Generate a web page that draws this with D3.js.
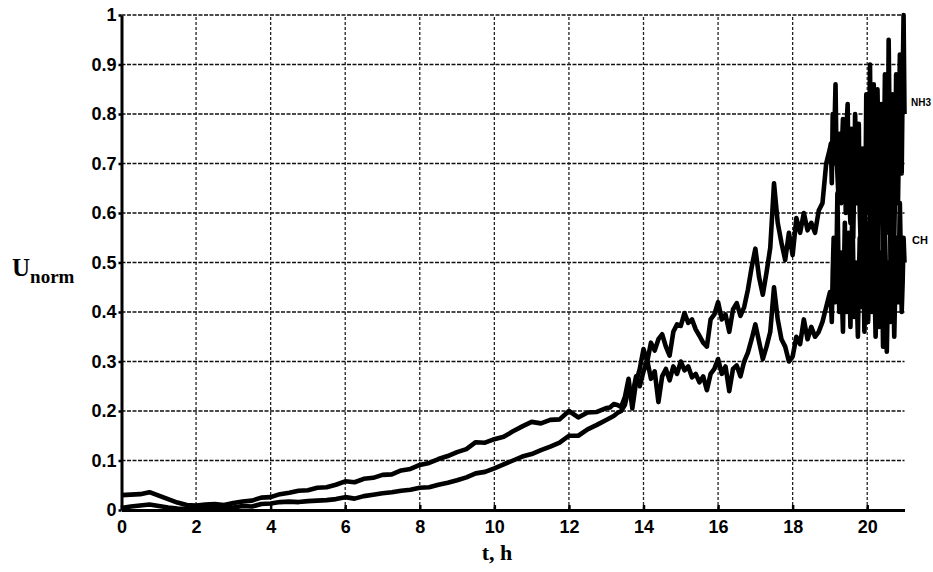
<!DOCTYPE html>
<html>
<head>
<meta charset="utf-8">
<script src="https://d3js.org/d3.v7.min.js"></script>
<style>
  body { margin: 0; background: #fff; }
  svg { display: block; }
</style>
</head>
<body>
<div id="chart"></div>
<script>
// Time in hours, split in three segments (coarse -> fine sampling)
const hoursEarly = [0, 0.25, 0.5, 0.75, 1, 1.25, 1.5, 1.75, 2, 2.25, 2.5, 2.75, 3, 3.25, 3.5, 3.75,
    4, 4.25, 4.5, 4.75, 5, 5.25, 5.5, 5.75, 6, 6.25, 6.5, 6.75, 7, 7.25, 7.5, 7.75, 8, 8.25, 8.5, 8.75,
    9, 9.25, 9.5, 9.75, 10, 10.25, 10.5, 10.75, 11, 11.25, 11.5, 11.75, 12, 12.25, 12.5, 12.75, 13];
const hoursMid = [13.1, 13.2, 13.3, 13.4, 13.5, 13.6, 13.7, 13.8, 13.9, 14.0,
    14.1, 14.2, 14.3, 14.4, 14.5, 14.6, 14.7, 14.8, 14.9, 15.0,
    15.1, 15.2, 15.3, 15.4, 15.5, 15.6, 15.7, 15.8, 15.9, 16.0,
    16.1, 16.2, 16.3, 16.4, 16.5, 16.6, 16.7, 16.8, 16.9, 17.0,
    17.1, 17.2, 17.3, 17.4, 17.5, 17.6, 17.7, 17.8, 17.9, 18.0,
    18.1, 18.2, 18.3, 18.4, 18.5, 18.6, 18.7, 18.8, 18.9, 19.0];
const hoursLate = [19.025, 19.05, 19.075, 19.1, 19.125, 19.15, 19.175, 19.2, 19.225, 19.25,
    19.275, 19.3, 19.325, 19.35, 19.375, 19.4, 19.425, 19.45, 19.475, 19.5,
    19.525, 19.55, 19.575, 19.6, 19.625, 19.65, 19.675, 19.7, 19.725, 19.75,
    19.775, 19.8, 19.825, 19.85, 19.875, 19.9, 19.925, 19.95, 19.975, 20.0,
    20.025, 20.05, 20.075, 20.1, 20.125, 20.15, 20.175, 20.2, 20.225, 20.25,
    20.275, 20.3, 20.325, 20.35, 20.375, 20.4, 20.425, 20.45, 20.475, 20.5,
    20.525, 20.55, 20.575, 20.6, 20.625, 20.65, 20.675, 20.7, 20.725, 20.75,
    20.775, 20.8, 20.825, 20.85, 20.875, 20.9, 20.925, 20.95, 20.975, 21.0];

// NH3 sensor, normalised signal
const nh3Early = [0.030, 0.031, 0.032, 0.036, 0.029, 0.022, 0.015, 0.010, 0.009, 0.011,
    0.012, 0.010, 0.014, 0.017, 0.019, 0.025, 0.026, 0.032, 0.035, 0.039,
    0.040, 0.045, 0.046, 0.051, 0.058, 0.056, 0.063, 0.065, 0.071, 0.072,
    0.080, 0.083, 0.091, 0.095, 0.103, 0.109, 0.117, 0.123, 0.137, 0.136,
    0.143, 0.148, 0.159, 0.169, 0.178, 0.175, 0.182, 0.183, 0.200, 0.187,
    0.197, 0.198, 0.206];
const nh3Mid = [0.207, 0.214, 0.212, 0.208, 0.228, 0.265, 0.205, 0.258, 0.285, 0.325,
    0.300, 0.338, 0.322, 0.345, 0.355, 0.330, 0.312, 0.360, 0.375, 0.372,
    0.398, 0.378, 0.385, 0.365, 0.352, 0.338, 0.330, 0.385, 0.395, 0.420,
    0.385, 0.395, 0.360, 0.405, 0.418, 0.392, 0.410, 0.445, 0.490, 0.528,
    0.470, 0.435, 0.480, 0.530, 0.660, 0.580, 0.540, 0.505, 0.560, 0.515,
    0.590, 0.560, 0.600, 0.565, 0.580, 0.560, 0.605, 0.620, 0.700, 0.730];
const nh3Late = [0.74, 0.66, 0.80, 0.70, 0.78, 0.86, 0.72, 0.68, 0.64, 0.76,
    0.70, 0.62, 0.74, 0.79, 0.66, 0.72, 0.60, 0.78, 0.82, 0.68,
    0.62, 0.58, 0.77, 0.70, 0.55, 0.66, 0.80, 0.74, 0.62, 0.70,
    0.78, 0.60, 0.54, 0.68, 0.73, 0.58, 0.47, 0.62, 0.84, 0.76,
    0.60, 0.72, 0.90, 0.66, 0.45, 0.58, 0.86, 0.70, 0.52, 0.64,
    0.85, 0.74, 0.58, 0.66, 0.82, 0.60, 0.50, 0.72, 0.88, 0.70,
    0.56, 0.64, 0.95, 0.78, 0.48, 0.60, 0.84, 0.72, 0.55, 0.66,
    0.88, 0.70, 0.62, 0.74, 0.92, 0.80, 0.68, 0.86, 1.00, 0.80];

// CH sensor, normalised signal
const chEarly = [0.004, 0.007, 0.009, 0.011, 0.008, 0.005, 0.003, 0.002, 0.003, 0.004,
    0.004, 0.006, 0.005, 0.008, 0.007, 0.012, 0.013, 0.016, 0.017, 0.016,
    0.018, 0.019, 0.020, 0.022, 0.026, 0.023, 0.028, 0.031, 0.034, 0.036,
    0.039, 0.041, 0.045, 0.046, 0.051, 0.055, 0.060, 0.066, 0.074, 0.077,
    0.084, 0.092, 0.100, 0.108, 0.113, 0.121, 0.128, 0.136, 0.150, 0.150,
    0.163, 0.172, 0.182];
const chMid = [0.186, 0.190, 0.196, 0.200, 0.212, 0.245, 0.232, 0.270, 0.250, 0.280,
    0.302, 0.265, 0.280, 0.218, 0.270, 0.285, 0.262, 0.290, 0.275, 0.300,
    0.282, 0.290, 0.268, 0.275, 0.258, 0.270, 0.242, 0.275, 0.285, 0.305,
    0.275, 0.290, 0.240, 0.285, 0.292, 0.270, 0.300, 0.318, 0.345, 0.375,
    0.340, 0.305, 0.330, 0.360, 0.450, 0.385, 0.345, 0.330, 0.300, 0.310,
    0.350, 0.335, 0.385, 0.345, 0.370, 0.350, 0.360, 0.380, 0.410, 0.440];
const chLate = [0.42, 0.38, 0.48, 0.55, 0.44, 0.42, 0.50, 0.64, 0.52, 0.40,
    0.46, 0.52, 0.42, 0.36, 0.48, 0.58, 0.44, 0.40, 0.50, 0.56,
    0.45, 0.37, 0.48, 0.62, 0.50, 0.39, 0.44, 0.50, 0.42, 0.35,
    0.46, 0.55, 0.48, 0.41, 0.52, 0.48, 0.36, 0.44, 0.58, 0.50,
    0.38, 0.46, 0.62, 0.52, 0.40, 0.48, 0.55, 0.44, 0.35, 0.42,
    0.60, 0.50, 0.37, 0.44, 0.52, 0.46, 0.33, 0.40, 0.57, 0.48,
    0.32, 0.42, 0.50, 0.44, 0.38, 0.52, 0.60, 0.46, 0.35, 0.44,
    0.55, 0.48, 0.42, 0.50, 0.62, 0.52, 0.40, 0.46, 0.55, 0.50];

const xTicks = [0, 2, 4, 6, 8, 10, 12, 14, 16, 18, 20];
const yTicks = [0, 0.1, 0.2, 0.3, 0.4, 0.5, 0.6, 0.7, 0.8, 0.9, 1];

// Dimensions and margins
const width = 933, height = 572;
const margin = { top: 15, right: 28.5, bottom: 62, left: 121.5 };

const svg = d3.select("#chart")
    .append("svg")
    .attr("width", width)
    .attr("height", height);

const xScale = d3.scaleLinear().domain([0, 21]).range([margin.left, width - margin.right]);
const yScale = d3.scaleLinear().domain([0, 1]).range([height - margin.bottom, margin.top]);

const hours = hoursEarly.concat(hoursMid, hoursLate);
const series = [
    { name: "CH", values: chEarly.concat(chMid, chLate) },
    { name: "NH3", values: nh3Early.concat(nh3Mid, nh3Late) }
];

// Grid lines (dashed)
const grid = svg.append("g").attr("class", "grid");
grid.selectAll(".hgrid")
    .data(yTicks.filter(d => d > 0))
    .enter()
    .append("line")
    .attr("x1", xScale(0))
    .attr("x2", xScale(21))
    .attr("y1", d => yScale(d))
    .attr("y2", d => yScale(d))
    .attr("stroke", "#111")
    .attr("stroke-width", 1.6)
    .attr("stroke-dasharray", "4,1.5");

grid.selectAll(".vgrid")
    .data(xTicks.filter(d => d > 0))
    .enter()
    .append("line")
    .attr("x1", d => xScale(d))
    .attr("x2", d => xScale(d))
    .attr("y1", yScale(0))
    .attr("y2", yScale(1))
    .attr("stroke", "#222")
    .attr("stroke-width", 1.3)
    .attr("stroke-dasharray", "3,2");

// Data lines
const line = d3.line()
    .x((d, i) => xScale(hours[i]))
    .y(d => yScale(d));

svg.selectAll(".line")
    .data(series)
    .enter()
    .append("path")
    .attr("class", "line")
    .attr("d", d => line(d.values))
    .attr("fill", "none")
    .attr("stroke", "#000")
    .attr("stroke-width", 4.6)
    .attr("stroke-linejoin", "round");

// Axes
const xAxis = d3.axisBottom(xScale)
    .tickValues(xTicks)
    .tickSizeInner(-5)
    .tickSizeOuter(0)
    .tickPadding(10);

const yAxis = d3.axisLeft(yScale)
    .tickValues(yTicks)
    .tickFormat(d3.format("~g"))
    .tickSizeInner(3)
    .tickSizeOuter(0)
    .tickPadding(2);

const gx = svg.append("g")
    .attr("transform", `translate(0,${yScale(0)})`)
    .call(xAxis);

const gy = svg.append("g")
    .attr("transform", `translate(${xScale(0)},0)`)
    .call(yAxis);

[gx, gy].forEach(g => {
    g.select(".domain").attr("stroke", "#000").attr("stroke-width", 3);
    g.selectAll(".tick line").attr("stroke", "#000").attr("stroke-width", 2.5);
    g.selectAll(".tick text")
        .attr("fill", "#000")
        .style("font-family", "'Liberation Sans', Arial, sans-serif")
        .style("font-weight", "bold")
        .style("font-size", "18px");
});

// Axis labels
const yLabel = svg.append("text")
    .attr("x", 12)
    .attr("y", 276)
    .style("font-family", "'Liberation Serif', 'Times New Roman', serif")
    .style("font-weight", "bold");
yLabel.append("tspan").style("font-size", "25px").text("U");
yLabel.append("tspan").attr("dy", 7).style("font-size", "19px").text("norm");

svg.append("text")
    .attr("x", 497)
    .attr("y", 560)
    .attr("text-anchor", "middle")
    .style("font-family", "'Liberation Serif', 'Times New Roman', serif")
    .style("font-weight", "bold")
    .style("font-size", "22px")
    .text("t, h");

// Series labels at the right end
svg.append("text")
    .attr("x", 911)
    .attr("y", 106)
    .style("font-family", "'Liberation Sans', Arial, sans-serif")
    .style("font-weight", "bold")
    .style("font-size", "10px")
    .text("NH3");

svg.append("text")
    .attr("x", 912)
    .attr("y", 244)
    .style("font-family", "'Liberation Sans', Arial, sans-serif")
    .style("font-weight", "bold")
    .style("font-size", "11px")
    .text("CH");
</script>
</body>
</html>
